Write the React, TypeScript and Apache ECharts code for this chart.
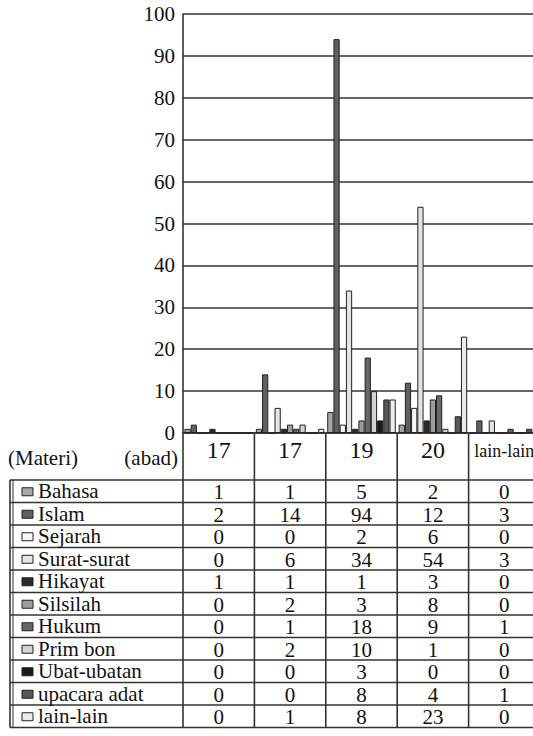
import React, { useEffect, useRef } from "react";
import * as echarts from "echarts";

const categories = ["17", "17", "19", "20", "lain-lain"];
const seriesNames = [
  "Bahasa",
  "Islam",
  "Sejarah",
  "Surat-surat",
  "Hikayat",
  "Silsilah",
  "Hukum",
  "Prim bon",
  "Ubat-ubatan",
  "upacara adat",
  "lain-lain",
];
const bahasa = [1, 1, 5, 2, 0];
const islam = [2, 14, 94, 12, 3];
const sejarah = [0, 0, 2, 6, 0];
const suratSurat = [0, 6, 34, 54, 3];
const hikayat = [1, 1, 1, 3, 0];
const silsilah = [0, 2, 3, 8, 0];
const hukum = [0, 1, 18, 9, 1];
const primBon = [0, 2, 10, 1, 0];
const ubatUbatan = [0, 0, 3, 0, 0];
const upacaraAdat = [0, 0, 8, 4, 1];
const lainLain = [0, 1, 8, 23, 0];
const seriesValues = [
  bahasa,
  islam,
  sejarah,
  suratSurat,
  hikayat,
  silsilah,
  hukum,
  primBon,
  ubatUbatan,
  upacaraAdat,
  lainLain,
];
const seriesColors = [
  "#a8a8a8",
  "#606060",
  "#f6f6f6",
  "#e4e4e4",
  "#2a2a2a",
  "#9c9c9c",
  "#686868",
  "#d2d2d2",
  "#1a1a1a",
  "#575757",
  "#ececec",
];
const yMin = 0;
const yMax = 100;
const yInterval = 10;

const FONT = "'Liberation Serif', 'Times New Roman', 'DejaVu Serif', serif";
const LINE = "#333";

export default function App() {
  const ref = useRef<HTMLDivElement>(null);
  useEffect(() => {
    if (!ref.current) return;
    const chart = echarts.init(ref.current, null, { renderer: "svg" });
    chart.setOption({
      animation: false,
      backgroundColor: "#fff",
      textStyle: { fontFamily: FONT },
      grid: {
        left: 183,
        top: 14,
        width: 357,
        height: 419,
        containLabel: false,
        outerBoundsMode: "none",
      },
      xAxis: {
        type: "category",
        data: categories,
        boundaryGap: true,
        axisLine: { show: true, lineStyle: { color: LINE, width: 1.6 } },
        axisTick: { show: false },
        axisLabel: {
          margin: 5,
          fontFamily: FONT,
          fontSize: 24,
          color: "#111",
          interval: 0,
          formatter: (v: string) => (v.length > 3 ? "{s|" + v + "}" : v),
          rich: { s: { fontFamily: FONT, fontSize: 18, color: "#111", padding: [4, 0, 0, 0] } },
        },
        splitLine: { show: false },
      },
      yAxis: {
        type: "value",
        min: yMin,
        max: yMax,
        interval: yInterval,
        axisLine: { show: true, lineStyle: { color: LINE, width: 1.6 } },
        axisTick: { show: false },
        axisLabel: { margin: 8, fontFamily: FONT, fontSize: 21, color: "#111" },
        splitLine: { show: true, lineStyle: { color: LINE, width: 1.6 } },
      },
      series: seriesNames.map((name, i) => ({
        name,
        type: "bar",
        data: seriesValues[i],
        barGap: "0%",
        barCategoryGap: "4%",
        itemStyle: { color: seriesColors[i], borderColor: "#222", borderWidth: 1 },
      })),
    });

    const c0 = chart.convertToPixel({ xAxisIndex: 0 }, 0) as number;
    const c1 = chart.convertToPixel({ xAxisIndex: 0 }, 1) as number;
    const bw = c1 - c0;
    const y0 = chart.convertToPixel({ yAxisIndex: 0 }, 0) as number;
    const rowTop = 480;
    const rowH = 22.5;
    const tableBottom = rowTop + rowH * seriesNames.length;
    const leftX = 10;
    const rightX = 545;

    const els: any[] = [];
    const lineStyle = { stroke: LINE, lineWidth: 1.6 };
    for (let i = 0; i <= categories.length; i++) {
      const x = c0 - bw / 2 + i * bw;
      els.push({ type: "line", shape: { x1: x, y1: y0, x2: x, y2: tableBottom }, style: lineStyle, silent: true });
    }
    els.push({ type: "line", shape: { x1: leftX, y1: rowTop, x2: leftX, y2: tableBottom }, style: lineStyle });
    els.push({ type: "line", shape: { x1: leftX + 3, y1: rowTop, x2: leftX + 3, y2: tableBottom }, style: { stroke: LINE, lineWidth: 1 } });
    for (let r = 0; r <= seriesNames.length; r++) {
      const y = rowTop + r * rowH;
      els.push({ type: "line", shape: { x1: leftX, y1: y, x2: rightX, y2: y }, style: lineStyle });
    }
    const txt = (text: string, x: number, y: number, size: number, align: string) => ({
      type: "text",
      x,
      y,
      style: {
        text,
        font: size + "px " + FONT,
        fill: "#111",
        align,
        verticalAlign: "middle",
      },
      silent: true,
    });
    els.push(txt("(Materi)", 8, 458, 21, "left"));
    els.push(txt("(abad)", 178, 458, 21, "right"));
    seriesNames.forEach((name, r) => {
      const cy = rowTop + r * rowH + rowH / 2;
      els.push({
        type: "rect",
        shape: { x: 22, y: cy - 3.5, width: 11, height: 8 },
        style: { fill: seriesColors[r], stroke: "#222", lineWidth: 1 },
      });
      els.push(txt(name, 38, cy, 21, "left"));
      seriesValues[r].forEach((v, ci) => {
        const cx = chart.convertToPixel({ xAxisIndex: 0 }, ci) as number;
        els.push(txt(String(v), cx, cy + 1, 21, "center"));
      });
    });
    chart.setOption({ graphic: { elements: els } });

    return () => chart.dispose();
  }, []);
  return (
    <div
      ref={ref}
      style={{ position: "fixed", left: 0, top: 0, width: 533, height: 736, background: "#fff" }}
    />
  );
}
